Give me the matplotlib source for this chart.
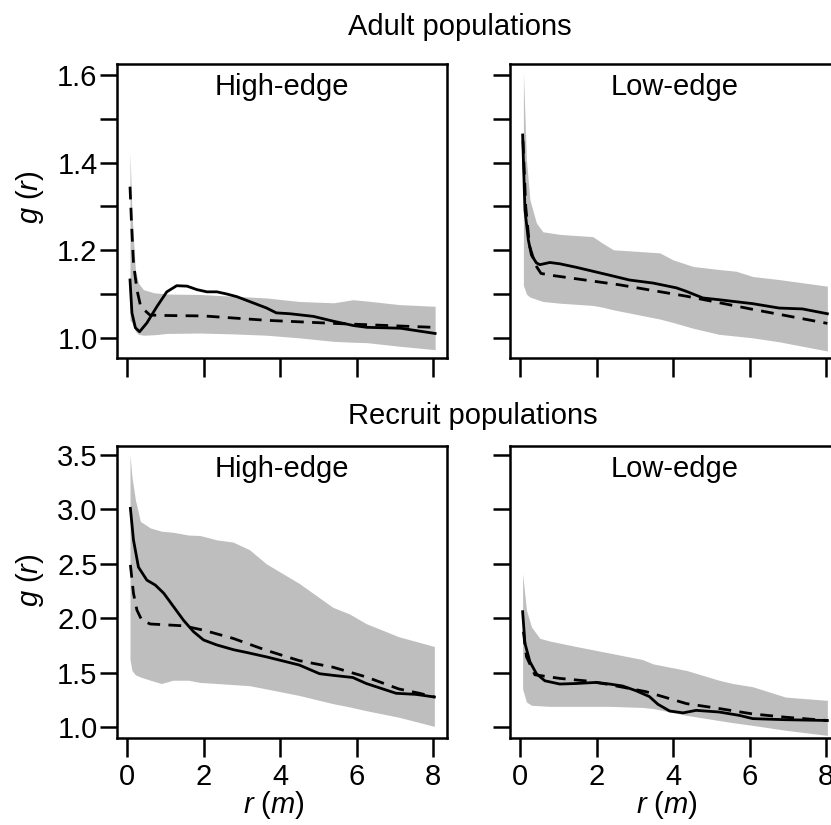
import matplotlib
matplotlib.use("Agg")
import matplotlib.pyplot as plt

plt.rcParams["font.family"] = ["Liberation Sans", "DejaVu Sans"]
plt.rcParams["mathtext.fontset"] = "custom"
plt.rcParams["mathtext.rm"] = "Liberation Sans"
plt.rcParams["mathtext.it"] = "Liberation Sans:italic"

# adult, high-edge
ah_env_r = [0.08, 0.13, 0.22, 0.3, 0.43, 0.7, 1.04, 1.9, 2.78, 3.65, 4.5, 5.4, 5.9, 6.27, 7.1, 8.05]
ah_env_hi = [1.425, 1.285, 1.155, 1.125, 1.11, 1.103, 1.10, 1.099, 1.095, 1.091, 1.083, 1.08, 1.087, 1.084, 1.076, 1.072]
ah_env_lo = [1.04, 1.035, 1.015, 1.008, 1.006, 1.007, 1.01, 1.011, 1.009, 1.006, 1.0, 0.992, 0.99, 0.989, 0.981, 0.973]
ah_obs_r = [0.08, 0.13, 0.22, 0.33, 0.52, 0.78, 1.04, 1.3, 1.57, 1.83, 2.09, 2.35, 2.61, 2.87, 3.2, 3.65, 3.9, 4.26, 4.87, 5.39, 5.92, 6.27, 7.14, 8.05]
ah_obs = [1.132, 1.057, 1.023, 1.014, 1.034, 1.071, 1.105, 1.119, 1.118, 1.11, 1.105, 1.105, 1.10, 1.094, 1.083, 1.068, 1.057, 1.055, 1.049, 1.038, 1.028, 1.024, 1.022, 1.01]
ah_fit_r = [0.08, 0.12, 0.17, 0.26, 0.36, 0.6, 1.0, 2.0, 3.65, 5.4, 8.0]
ah_fit = [1.345, 1.26, 1.171, 1.11, 1.071, 1.052, 1.051, 1.05, 1.04, 1.033, 1.024]

# adult, low-edge
al_env_r = [0.09, 0.17, 0.26, 0.43, 0.6, 1.06, 1.9, 2.16, 2.44, 3.65, 4.0, 4.52, 5.2, 5.65, 6.08, 6.77, 8.03]
al_env_hi = [1.608, 1.406, 1.315, 1.262, 1.242, 1.236, 1.231, 1.216, 1.201, 1.194, 1.178, 1.163, 1.156, 1.152, 1.14, 1.133, 1.118]
al_env_lo = [1.12, 1.10, 1.093, 1.088, 1.083, 1.079, 1.074, 1.07, 1.064, 1.043, 1.035, 1.022, 1.008, 1.004, 1.0, 0.991, 0.97]
al_obs_r = [0.07, 0.13, 0.22, 0.3, 0.43, 0.52, 0.78, 1.04, 1.47, 2.34, 2.86, 3.48, 4.09, 4.35, 4.78, 5.2, 6.08, 6.77, 7.38, 8.03]
al_obs = [1.463, 1.292, 1.223, 1.189, 1.171, 1.167, 1.172, 1.169, 1.161, 1.143, 1.132, 1.125, 1.114, 1.106, 1.091, 1.087, 1.078, 1.068, 1.066, 1.055]
al_fit_r = [0.08, 0.15, 0.25, 0.4, 0.55, 0.88, 2.6, 4.35, 6.08, 8.03]
al_fit = [1.45, 1.30, 1.21, 1.167, 1.147, 1.142, 1.121, 1.095, 1.065, 1.033]

# recruit, high-edge
rh_env_r = [0.08, 0.13, 0.22, 0.35, 0.61, 0.9, 1.2, 1.6, 1.91, 2.35, 2.77, 3.2, 3.64, 4.5, 5.38, 5.81, 6.25, 7.1, 8.03]
rh_env_hi = [3.5, 3.3, 3.09, 2.89, 2.83, 2.80, 2.79, 2.765, 2.76, 2.72, 2.70, 2.63, 2.50, 2.32, 2.10, 2.04, 1.95, 1.83, 1.74]
rh_env_lo = [1.62, 1.52, 1.48, 1.46, 1.43, 1.40, 1.43, 1.43, 1.41, 1.40, 1.39, 1.38, 1.35, 1.29, 1.215, 1.185, 1.15, 1.09, 1.006]
rh_obs_r = [0.09, 0.17, 0.3, 0.52, 0.74, 0.96, 1.22, 1.48, 1.74, 2.0, 2.35, 2.79, 3.13, 3.64, 4.5, 5.03, 5.38, 5.9, 6.25, 7.03, 7.55, 8.03]
rh_obs = [3.01, 2.72, 2.47, 2.35, 2.305, 2.23, 2.105, 1.98, 1.876, 1.80, 1.754, 1.71, 1.685, 1.645, 1.57, 1.49, 1.475, 1.455, 1.40, 1.31, 1.30, 1.276]
rh_fit_r = [0.09, 0.17, 0.26, 0.39, 0.61, 1.48, 2.0, 2.77, 3.64, 4.5, 5.38, 6.25, 7.1, 7.64, 8.03]
rh_fit = [2.49, 2.23, 2.075, 1.98, 1.947, 1.93, 1.89, 1.815, 1.705, 1.61, 1.55, 1.46, 1.35, 1.31, 1.276]

# recruit, low-edge
rl_env_r = [0.07, 0.17, 0.3, 0.52, 0.78, 1.47, 2.34, 3.2, 3.48, 4.35, 5.2, 5.56, 6.08, 6.94, 8.03]
rl_env_hi = [2.41, 2.075, 1.92, 1.815, 1.79, 1.74, 1.68, 1.62, 1.58, 1.52, 1.43, 1.40, 1.37, 1.275, 1.245]
rl_env_lo = [1.35, 1.23, 1.20, 1.195, 1.19, 1.19, 1.19, 1.18, 1.17, 1.107, 1.06, 1.04, 1.015, 0.97, 0.923]
rl_obs_r = [0.07, 0.13, 0.26, 0.43, 0.65, 1.04, 1.47, 1.99, 2.34, 2.68, 3.03, 3.38, 3.6, 3.91, 4.26, 4.6, 5.2, 5.73, 6.08, 6.94, 8.03]
rl_obs = [2.06, 1.77, 1.60, 1.49, 1.425, 1.395, 1.40, 1.41, 1.395, 1.377, 1.334, 1.28, 1.21, 1.147, 1.13, 1.153, 1.138, 1.107, 1.077, 1.067, 1.06]
rl_fit_r = [0.09, 0.17, 0.39, 1.04, 1.75, 2.25, 3.29, 4.35, 5.2, 6.08, 6.94, 8.03]
rl_fit = [1.876, 1.646, 1.48, 1.447, 1.423, 1.395, 1.325, 1.215, 1.17, 1.12, 1.09, 1.06]

panel_titles = ["High-edge", "Low-edge"]
adult_yticks = [1.0, 1.1, 1.2, 1.3, 1.4, 1.5, 1.6]
adult_ylabels = ["1.0", "", "1.2", "", "1.4", "", "1.6"]
recruit_yticks = [1.0, 1.5, 2.0, 2.5, 3.0, 3.5]
x_ticks = [0, 2, 4, 6, 8]

W, H = 831, 825
FS = 21
GREY = "#bebebe"

fig = plt.figure(figsize=(W / 100, H / 100), dpi=100)


def add_axes(left, top, width, height):
    return fig.add_axes([left / W, 1 - (top + height) / H, width / W, height / H])


def draw_panel(ax, env_r, env_hi, env_lo, obs_r, obs, fit_r, fit, title):
    ax.fill_between(env_r, env_lo, env_hi, color=GREY, lw=0)
    ax.plot(fit_r, fit, color="black", lw=2.0, ls=(0, (4.6, 3.0)))
    ax.plot(obs_r, obs, color="black", lw=2.0, solid_joinstyle="round")
    ax.set_xlim(-0.26, 8.36)
    ax.set_xticks(x_ticks)
    for side in ax.spines.values():
        side.set_linewidth(1.8)
    ax.tick_params(axis="y", direction="out", length=12, width=1.8, labelsize=FS, pad=2)
    ax.tick_params(axis="x", direction="out", length=14, width=1.8, labelsize=FS, pad=4)
    ax.text(0.5, 1 - 31 / 294, title, transform=ax.transAxes, ha="center", va="baseline", fontsize=FS)


top_axes = [add_axes(117, 64, 330, 294), add_axes(510, 64, 330, 294)]
bot_axes = [add_axes(117, 446, 330, 292), add_axes(510, 446, 330, 292)]

draw_panel(top_axes[0], ah_env_r, ah_env_hi, ah_env_lo, ah_obs_r, ah_obs, ah_fit_r, ah_fit, panel_titles[0])
draw_panel(top_axes[1], al_env_r, al_env_hi, al_env_lo, al_obs_r, al_obs, al_fit_r, al_fit, panel_titles[1])
draw_panel(bot_axes[0], rh_env_r, rh_env_hi, rh_env_lo, rh_obs_r, rh_obs, rh_fit_r, rh_fit, panel_titles[0])
draw_panel(bot_axes[1], rl_env_r, rl_env_hi, rl_env_lo, rl_obs_r, rl_obs, rl_fit_r, rl_fit, panel_titles[1])

for i, ax in enumerate(top_axes):
    ax.set_ylim(0.954, 1.625)
    ax.set_yticks(adult_yticks)
    ax.set_yticklabels(adult_ylabels if i == 0 else [])
    ax.set_xticklabels([])

for i, ax in enumerate(bot_axes):
    ax.set_ylim(0.899, 3.583)
    ax.set_yticks(recruit_yticks)
    if i == 0:
        ax.set_yticklabels([f"{v:.1f}" for v in recruit_yticks])
    else:
        ax.set_yticklabels([])
    ax.set_xticklabels([str(v) for v in x_ticks])

fig.text(460 / W, 1 - 35 / H, "Adult populations", ha="center", va="baseline", fontsize=FS)
fig.text(473 / W, 1 - 424 / H, "Recruit populations", ha="center", va="baseline", fontsize=FS)

fig.text(30 / W, 1 - 197 / H, r"$g$ ($r$)", rotation=90, ha="center", va="center", fontsize=FS)
fig.text(30 / W, 1 - 580 / H, r"$g$ ($r$)", rotation=90, ha="center", va="center", fontsize=FS)
fig.text(274 / W, 1 - 813 / H, r"$r$ ($m$)", ha="center", va="baseline", fontsize=FS)
fig.text(667 / W, 1 - 813 / H, r"$r$ ($m$)", ha="center", va="baseline", fontsize=FS)

fig.savefig("out.png", dpi=100)
